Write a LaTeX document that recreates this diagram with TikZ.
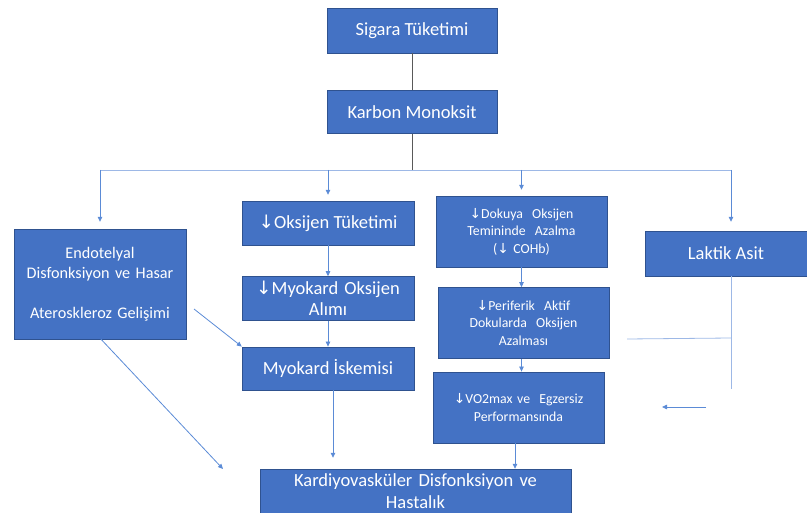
\documentclass[tikz,border=0pt]{standalone}
\usepackage{fontspec}
\setmainfont{Carlito}
\newfontfamily\symfont{DejaVu Sans}
\usetikzlibrary{arrows.meta, positioning}

\definecolor{boxfill}{HTML}{4472C4}
\definecolor{boxline}{HTML}{2F528F}
\definecolor{linkblue}{HTML}{5B8BD6}
\definecolor{branchblue}{HTML}{9DB8E6}
\definecolor{stemgray}{HTML}{595959}

\newcommand{\dn}{{\symfont\char"2193}}

\begin{document}
\begin{tikzpicture}[
    x=1pt, y=-1pt,
    node distance=20pt, % vertical spacing between boxes
    box/.style={rectangle, draw=boxline, fill=boxfill, text=white, align=center, inner sep=2pt, font=\fontsize{18.5}{21.5}\selectfont},
    smallbox/.style={box, minimum width=171pt, minimum height=71pt, text width=165pt, font=\fontsize{13.8}{17.5}\selectfont},
    link/.style={draw=linkblue, line width=0.8pt, -{Triangle[length=5pt, width=4.5pt]}},
    branch/.style={draw=branchblue, line width=0.8pt},
    stem/.style={draw=stemgray, line width=0.8pt}
]
\useasboundingbox (0,0) rectangle (807,513);

% Top chain
\node[box, minimum width=170pt, minimum height=45pt] (sigara) at (412,30.5) {Sigara Tüketimi};
\node[box, minimum width=170pt, minimum height=43pt, below=37pt of sigara] (karbon) {Karbon Monoksit};

% Left column
\node[box, minimum width=172pt, minimum height=110pt, text width=168pt, font=\fontsize{16.2}{20}\selectfont] (endo) at (100,284) {Endotelyal\\Disfonksiyon ve Hasar\\[20pt]Ateroskleroz Gelişimi};

% Middle column
\node[box, minimum width=172pt, minimum height=44pt] (oksijen) at (328,223) {\dn Oksijen Tüketimi};
\node[box, minimum width=172pt, minimum height=44pt, text width=168pt, below=31pt of oksijen] (alim) {\dn Myokard Oksijen\\Alımı};
\node[box, minimum width=172pt, minimum height=43pt, below=26pt of alim] (iskemi) {Myokard İskemisi};
\node[box, minimum width=311pt, minimum height=44pt, text width=305pt] (kardiyo) at (415.5,491) {Kardiyovasküler Disfonksiyon ve\\Hastalık};

% Right column
\node[smallbox] (dokuya) at (521.5,231.5) {\dn Dokuya\ \ Oksijen\\Temininde\ \ Azalma\\(\dn\ COHb)};
\node[smallbox, below=20pt of dokuya, xshift=2pt] (periferik) {\dn Periferik\ \ Aktif\\Dokularda\ \ Oksijen\\Azalması};
\node[smallbox, below=13pt of periferik, xshift=-5pt] (vo2) {\dn VO2max\ ve\ \ Egzersiz\\Performansında};
\node[box, minimum width=162pt, minimum height=45pt] (laktik) at (726,253.5) {Laktik Asit};

% Branching from Karbon Monoksit
\coordinate (split) at (412,170);
\coordinate (bl) at (endo.north |- split);
\coordinate (br) at ([xshift=5pt]laktik.north |- split);
\draw[stem] (sigara) -- (karbon);
\draw[stem] (karbon) -- (split);
\draw[branch] (bl) -- (br);
\draw[link, shorten >=7pt] (bl) -- (endo.north);
\draw[link, shorten >=6pt] (oksijen.north |- split) -- (oksijen.north);
\draw[link, shorten >=6pt] (dokuya.north |- split) -- (dokuya.north);
\draw[link, shorten >=9pt] (br) -- ([xshift=5pt]laktik.north);

% Middle chain
\draw[link] (oksijen) -- (alim);
\draw[link] (alim) -- (iskemi);
\draw[link, shorten >=11pt] ([xshift=5pt]iskemi.south) -- ([xshift=5pt]iskemi.south |- kardiyo.north);

% Right chain
\draw[link] (dokuya.south) -- (dokuya.south |- periferik.north);
\draw[link] (dokuya.south |- periferik.south) -- (dokuya.south |- vo2.north);
\draw[link] ([xshift=-3.5pt]vo2.south) -- ([xshift=-3.5pt]vo2.south |- kardiyo.north);

% Diagonals from Endotelyal
\coordinate (endoexit) at (194,309);
\coordinate (kardiyoin) at (223,469);
\draw[link] (endoexit) -- (iskemi.north west);
\draw[link] ([xshift=1pt]endo.south) -- (kardiyoin);

% Laktik Asit lines
\coordinate (laktikend) at (731,389);
\coordinate (laktikjoin) at (731,338);
\coordinate (periferikout) at (627,339);
\coordinate (laktikout) at (706,407);
\coordinate (vo2in) at (662,407);
\draw[branch] ([xshift=5pt]laktik.south) -- (laktikend);
\draw[branch] (periferikout) -- (laktikjoin);
\draw[link] (laktikout) -- (vo2in);

\end{tikzpicture}
\end{document}
